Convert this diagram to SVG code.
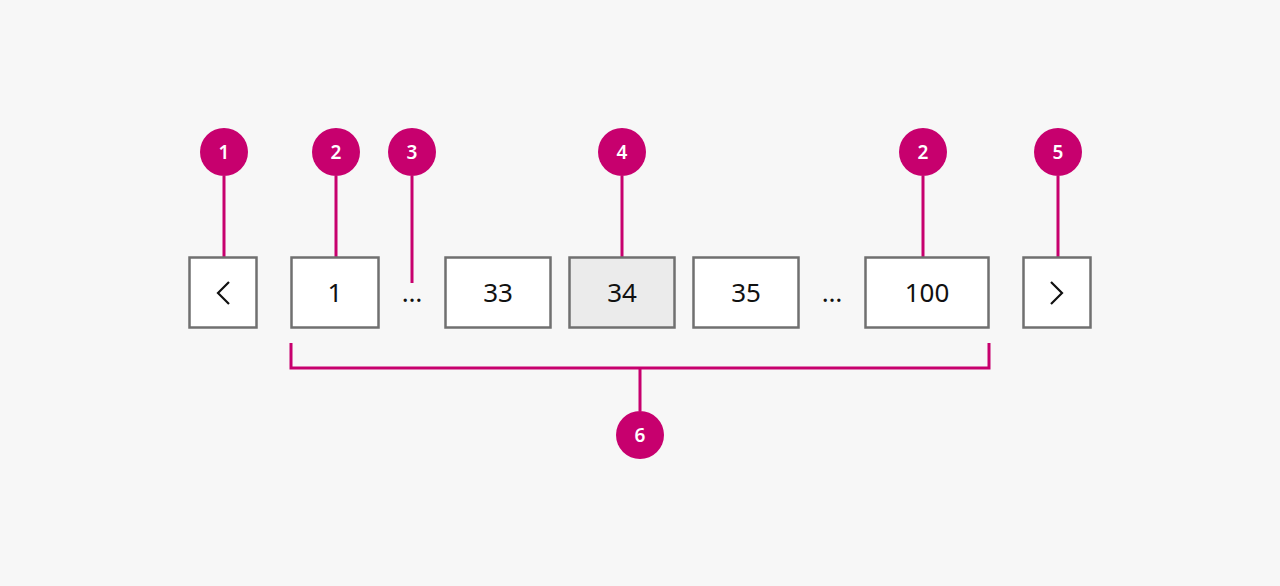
<svg xmlns="http://www.w3.org/2000/svg" width="1280" height="586" viewBox="0 0 1280 586">
<style>
.box{fill:#fff;stroke:#707070;stroke-width:2.5}
.sel{fill:#ebebeb}
.t{font-family:"Noto Sans","Open Sans",sans-serif;font-size:26px;fill:#111;text-anchor:middle}
.c{fill:#c7006e}
.n{font-family:"Noto Sans","Open Sans",sans-serif;font-size:19px;fill:#fff;text-anchor:middle;font-weight:600}
.l{stroke:#c7006e;stroke-width:3;fill:none}
.ch{stroke:#111;stroke-width:2.2;fill:none}
</style>
<rect width="1280" height="586" fill="#f7f7f7"/>
<g id="connectors">
<path class="l" d="M224 176V270M336 176V270M412 176V283M622 176V270M923 176V270M1058 176V270"/>
<path class="l" d="M291 343V368H989V343M640 368V411"/>
</g>
<g id="prev"><rect class="box" x="189.5" y="257.5" width="67" height="70"/><path class="ch" d="M229 282L218 293L229 304"/></g>
<g id="p1"><rect class="box" x="291.5" y="257.5" width="87" height="70"/><text class="t" x="335" y="302">1</text></g>
<g id="dots1"><text class="t" x="412" y="302">…</text></g>
<g id="p33"><rect class="box" x="445.5" y="257.5" width="105" height="70"/><text class="t" x="498" y="302">33</text></g>
<g id="p34"><rect class="box sel" x="569.5" y="257.5" width="105" height="70"/><text class="t" x="622" y="302">34</text></g>
<g id="p35"><rect class="box" x="693.5" y="257.5" width="105" height="70"/><text class="t" x="746" y="302">35</text></g>
<g id="dots2"><text class="t" x="832" y="302">…</text></g>
<g id="p100"><rect class="box" x="865.5" y="257.5" width="123" height="70"/><text class="t" x="927" y="302">100</text></g>
<g id="next"><rect class="box" x="1023.5" y="257.5" width="67" height="70"/><path class="ch" d="M1051 282L1062 293L1051 304"/></g>
<g id="m1"><circle class="c" cx="224" cy="152" r="24"/><text class="n" x="224" y="159">1</text></g>
<g id="m2a"><circle class="c" cx="336" cy="152" r="24"/><text class="n" x="336" y="159">2</text></g>
<g id="m3"><circle class="c" cx="412" cy="152" r="24"/><text class="n" x="412" y="159">3</text></g>
<g id="m4"><circle class="c" cx="622" cy="152" r="24"/><text class="n" x="622" y="159">4</text></g>
<g id="m2b"><circle class="c" cx="923" cy="152" r="24"/><text class="n" x="923" y="159">2</text></g>
<g id="m5"><circle class="c" cx="1058" cy="152" r="24"/><text class="n" x="1058" y="159">5</text></g>
<g id="m6"><circle class="c" cx="640" cy="435" r="24"/><text class="n" x="640" y="442">6</text></g>
</svg>
